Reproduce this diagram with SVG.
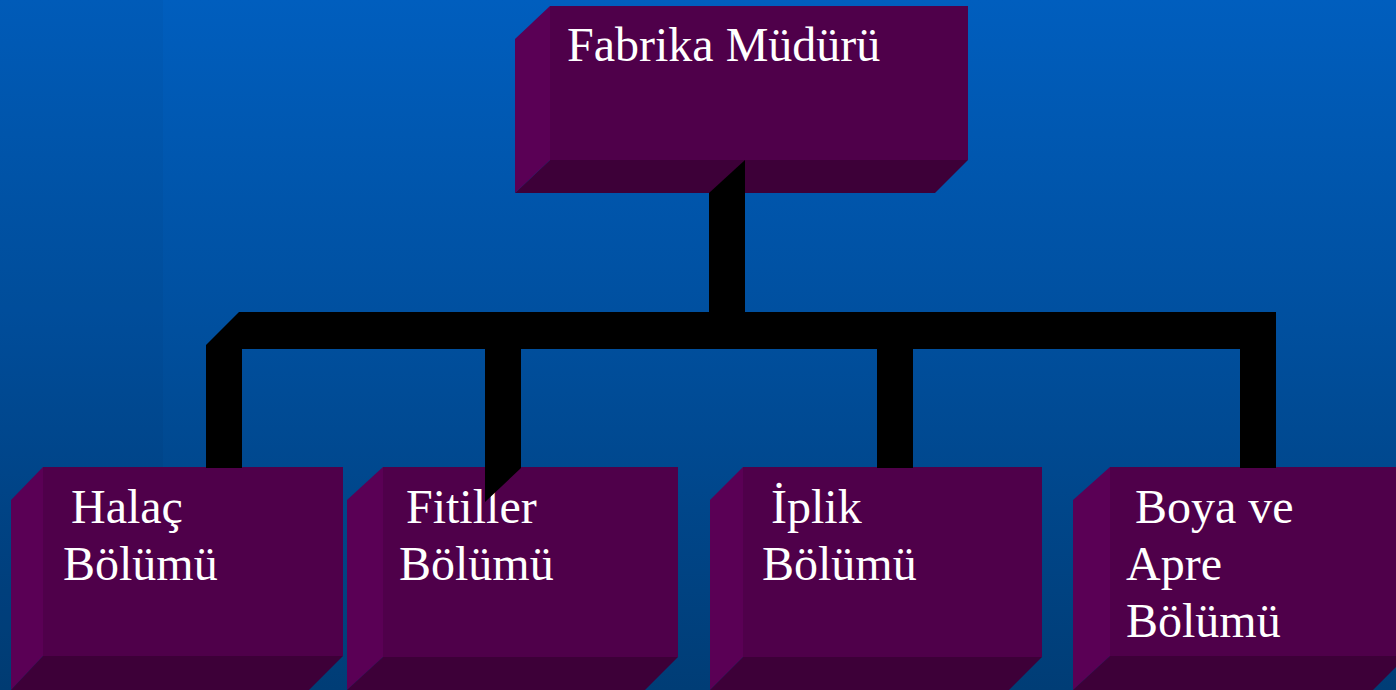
<svg xmlns="http://www.w3.org/2000/svg" width="1396" height="690" viewBox="0 0 1396 690">
  <defs>
    <linearGradient id="bg" x1="0" y1="0" x2="0" y2="1">
      <stop offset="0" stop-color="#005EBE"/>
      <stop offset="0.45" stop-color="#0050A0"/>
      <stop offset="1" stop-color="#003D76"/>
    </linearGradient>
    <style>
      .front { fill: #4F004A; }
      .side { fill: #5A0055; }
      .base { fill: #3D0038; }
      .link { fill: #000000; }
      .label { font-family: "Liberation Serif", "Times New Roman", serif; font-size: 48px; fill: #FFFFFF; }
    </style>
  </defs>

  <!-- slide background -->
  <rect x="0" y="0" width="1396" height="690" fill="url(#bg)"/>
  <rect x="0" y="0" width="163" height="690" fill="#000000" fill-opacity="0.03"/>

  <!-- top box -->
  <g id="node-fabrika-muduru">
    <rect class="front" x="550" y="6" width="418" height="154"/>
    <polygon class="side" points="515,39 550,6 550,160 515,193"/>
    <polygon class="base" points="550,160 968,160 935,193 515,193"/>
    <text class="label" x="567" y="61">Fabrika Müdürü</text>
  </g>

  <!-- department boxes -->
  <g id="node-halac">
    <rect class="front" x="43" y="467" width="300" height="189"/>
    <polygon class="side" points="11,500 43,467 43,656 11,690"/>
    <polygon class="base" points="43,656 343,656 309,690 11,690"/>
    <text class="label" x="71" y="523">Halaç</text>
    <text class="label" x="63" y="580">Bölümü</text>
  </g>

  <g id="node-fitiller">
    <rect class="front" x="383" y="467" width="295" height="190"/>
    <polygon class="side" points="347,500 383,467 383,657 347,690"/>
    <polygon class="base" points="383,657 678,657 645,690 347,690"/>
    <text class="label" x="406" y="523">Fitiller</text>
    <text class="label" x="399" y="580">Bölümü</text>
  </g>

  <g id="node-iplik">
    <rect class="front" x="743" y="467" width="299" height="190"/>
    <polygon class="side" points="710,500 743,467 743,657 710,690"/>
    <polygon class="base" points="743,657 1042,657 1009,690 710,690"/>
    <text class="label" x="771" y="523">İplik</text>
    <text class="label" x="762" y="580">Bölümü</text>
  </g>

  <g id="node-boya-apre">
    <rect class="front" x="1110" y="467" width="297" height="189"/>
    <polygon class="side" points="1073,500 1110,467 1110,656 1073,690"/>
    <polygon class="base" points="1110,656 1407,656 1373,690 1073,690"/>
    <text class="label" x="1135" y="523">Boya ve</text>
    <text class="label" x="1126" y="580">Apre</text>
    <text class="label" x="1126" y="637">Bölümü</text>
  </g>

  <!-- connectors -->
  <g id="connectors">
    <polygon class="link" points="745,160 745,313 709,313 709,193"/>
    <polygon class="link" points="239,312 1276,312 1276,468 1240,468 1240,349 913,349 913,468 877,468 877,349 521,349 521,468 485,502 485,349 242,349 242,468 206,468 206,345"/>
  </g>
</svg>
